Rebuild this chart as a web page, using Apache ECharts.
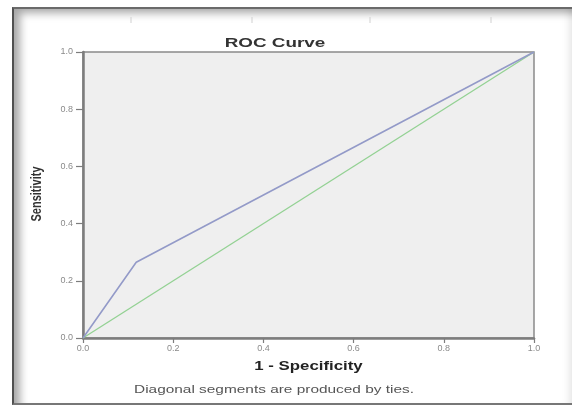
<!DOCTYPE html>
<html>
<head>
<meta charset="utf-8">
<script src="https://cdn.jsdelivr.net/npm/echarts@6/dist/echarts.min.js"></script>
<style>
html,body{margin:0;padding:0;background:#fff;}
#frame{position:absolute;left:12px;top:7px;width:560px;height:398px;box-sizing:border-box;
 border-left:2px solid #505050;border-top:2px solid #6a6a6a;border-bottom:2px solid #777;
 box-shadow:inset 9px 7px 9px -3px rgba(0,0,0,0.35), inset -8px 0 8px -6px rgba(0,0,0,0.12);}
#chart{position:absolute;left:0;top:0;width:572px;height:407px;}
</style>
</head>
<body>
<div id="frame"></div>
<div id="chart"></div>
<script>
// Data
const rocX = [0, 0.118, 1];
const rocY = [0, 0.265, 1];
const refX = [0, 1];
const refY = [0, 1];
const tickValues = [0, 0.2, 0.4, 0.6, 0.8, 1.0];
const titleText = 'ROC Curve';
const xName = '1 - Specificity';
const yName = 'Sensitivity';
const footText = 'Diagonal segments are produced by ties.';

const roc = rocX.map((x, i) => [x, rocY[i]]);
const ref = refX.map((x, i) => [x, refY[i]]);

const chart = echarts.init(document.getElementById('chart'));
const axisCommon = {
  type: 'value', min: 0, max: 1, interval: 0.2,
  axisLine: {show: true, lineStyle: {color: '#7d7d7d', width: 2.5}},
  axisTick: {show: true, length: 5, lineStyle: {color: '#7d7d7d', width: 1.2}},
  axisLabel: {fontSize: 9, color: '#8a8a8a', fontFamily: 'Liberation Sans', formatter: v => v.toFixed(1)},
  splitLine: {show: false}
};
const grid = {left: 83, right: 38, top: 52, bottom: 69};
const plotLeft = 83, plotRight = 534, plotTop = 52, plotBottom = 338;
const cx = (plotLeft + plotRight) / 2;

chart.setOption({
  animation: false,
  backgroundColor: 'transparent',
  grid: Object.assign({show: true, backgroundColor: '#efefef', borderColor: '#8a8a8a', borderWidth: 1.5}, grid),
  xAxis: Object.assign({}, axisCommon, {axisLabel: Object.assign({}, axisCommon.axisLabel, {margin: 6})}),
  yAxis: Object.assign({}, axisCommon, {axisTick: {show: true, length: 7, lineStyle: {color: '#7d7d7d', width: 1.2}}, axisLabel: Object.assign({}, axisCommon.axisLabel, {margin: 10})}),
  series: [
    {type: 'line', data: ref, symbol: 'none', lineStyle: {color: '#93d193', width: 1.3}, z: 2},
    {type: 'line', data: roc, symbol: 'none', lineStyle: {color: '#939ac8', width: 1.6}, z: 3}
  ],
  graphic: [
    {type: 'text', x: 275, y: 43, scaleX: 1.45, style: {text: titleText, font: 'bold 13px "Liberation Sans", Arial', fill: '#333', textAlign: 'center', textVerticalAlign: 'middle'}},
    {type: 'text', x: cx, y: 367, scaleX: 1.4, style: {text: xName, font: 'bold 12px "Liberation Sans", Arial', fill: '#222', textAlign: 'center', textVerticalAlign: 'middle'}},
    {type: 'text', x: 37, y: 194, rotation: Math.PI / 2, scaleY: 1.3, style: {text: yName, font: 'bold 11px "Liberation Sans", Arial', fill: '#333', textAlign: 'center', textVerticalAlign: 'middle'}},
    {type: 'text', x: 274, y: 390, scaleX: 1.4, style: {text: footText, font: '11px "Liberation Sans", Arial', fill: '#555', textAlign: 'center', textVerticalAlign: 'middle'}},
    {type: 'line', shape: {x1: 131, y1: 17, x2: 131, y2: 23}, style: {stroke: '#d0d0d0', lineWidth: 1}},
    {type: 'line', shape: {x1: 252, y1: 17, x2: 252, y2: 23}, style: {stroke: '#d0d0d0', lineWidth: 1}},
    {type: 'line', shape: {x1: 370, y1: 17, x2: 370, y2: 23}, style: {stroke: '#d0d0d0', lineWidth: 1}},
    {type: 'line', shape: {x1: 491, y1: 17, x2: 491, y2: 23}, style: {stroke: '#d0d0d0', lineWidth: 1}}
  ]
});
</script>
</body>
</html>
